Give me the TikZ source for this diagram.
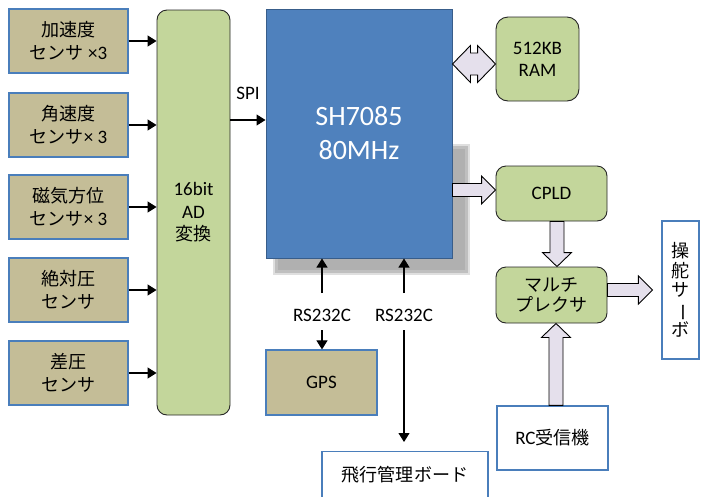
\documentclass[tikz,border=0pt]{standalone}
\usepackage{fontspec}
\setmainfont{Carlito}
\newfontfamily\jp{Noto Sans CJK JP}[Scale=0.95]
\usetikzlibrary{calc,arrows.meta}
\definecolor{tanfill}{HTML}{C4BD97}
\definecolor{bordblue}{HTML}{4A7EBB}
\definecolor{greenfill}{HTML}{C3D69B}
\definecolor{cpufill}{HTML}{4F81BD}
\definecolor{cpuborder}{HTML}{385D8A}
\definecolor{lavender}{HTML}{E5E0EC}
\begin{document}
\begin{tikzpicture}[x=1pt,y=-1pt,
  font=\fontsize{19}{23}\selectfont,
  sensor/.style={draw=bordblue, line width=1.2pt, fill=tanfill, minimum width=119pt, minimum height=64pt, align=center, inner sep=0pt},
  greenbox/.style={draw=black!85, line width=0.9pt, fill=greenfill, rounded corners=10pt, align=center, inner sep=0pt},
  whitebox/.style={draw=bordblue, line width=1.2pt, fill=white, align=center, inner sep=0pt},
  conn/.style={line width=1.1pt, -{Triangle[length=9pt,width=11pt]}},
  blockarrow/.style={draw=black, line width=0.9pt, fill=lavender, line join=miter},
  lbl/.style={inner sep=0pt}
]
\useasboundingbox (0,0) rectangle (707,496);

% shadow of CPU
\fill[gray!25] (273,144) rectangle (470,275);
\fill[gray!50] (275,146) rectangle (468,273);
\fill[gray!62] (278,149) rectangle (465,270);

% sensors
\node[sensor] (s1) at (68.5,41) {{\jp 加速度}\\{\jp センサ} ×3};
\node[sensor] (s2) at (68.5,125) {{\jp 角速度}\\{\jp センサ}× 3};
\node[sensor] (s3) at (68.5,207) {{\jp 磁気方位}\\{\jp センサ}× 3};
\node[sensor] (s4) at (68.5,290) {{\jp 絶対圧}\\{\jp センサ}};
\node[sensor] (s5) at (68.5,373) {{\jp 差圧}\\{\jp センサ}};

% ADC
\node[greenbox, minimum width=73pt, minimum height=405pt, font=\fontsize{19}{22.5}\selectfont] (adc) at (193.5,212.5) {16bit\\AD\\{\jp 変換}};

% CPU
\node[draw=cpuborder, line width=1pt, fill=cpufill, minimum width=186pt, minimum height=249pt, text=white, align=center, font=\fontsize{28}{34}\selectfont] (cpu) at (359,133.5) {SH7085\\80MHz};

% RAM, CPLD, MUX
\node[greenbox, minimum width=83pt, minimum height=84pt, rounded corners=12pt, font=\fontsize{19}{22}\selectfont] (ram) at (537.5,59) {512KB\\RAM};
\node[greenbox, minimum width=111pt, minimum height=55pt] (cpld) at (551.5,193.5) {CPLD};
\node[greenbox, minimum width=111pt, minimum height=56pt, font=\fontsize{19}{20.5}\selectfont] (mux) at (551.5,295) {{\jp マルチ}\\{\jp プレクサ}};

% servo
\node[whitebox, minimum width=37pt, minimum height=138pt, font=\jp\fontsize{19}{19.5}\selectfont] (servo) at (680.5,290) {操\\舵\\サ\\\rotatebox[origin=c]{-90}{ー}\\ボ};

% RC receiver
\node[whitebox, minimum width=111pt, minimum height=64pt] (rc) at (552.5,438) {RC{\jp 受信機}};

% GPS
\node[sensor, minimum width=111pt, minimum height=65pt] (gps) at (321.5,382.5) {GPS};

% flight board
\node[whitebox, minimum width=166pt, minimum height=50pt, anchor=north] (board) at (405,451) {};
\node[lbl] (boardtxt) at (405,475) {\jp 飛行管理ボード};

% sensor arrows
\foreach \s in {s1,s2,s3,s4,s5}
  \draw[conn] (\s.east) -- (\s.east -| adc.west);

% SPI
\coordinate (spiin) at ($(cpu.west)+(0,-13.5)$);
\draw[conn] (spiin -| adc.east) -- (spiin);
\node[lbl] (spi) at (248,93) {SPI};

% RS232C
\node[lbl] (rs1) at (322,315) {RS232C};
\node[lbl] (rs2) at (404,315) {RS232C};
\coordinate (r1top) at (322,293);
\coordinate (r1bot) at (322,330);
\coordinate (r2top) at (404,293);
\coordinate (r2bot) at (404,330);
\coordinate (r2end) at (404,442);
\draw[conn] (r1top) -- (r1top |- cpu.south);
\draw[conn] (r1bot) -- (r1bot |- gps.north);
\draw[conn] (r2top) -- (r2top |- cpu.south);
\draw[conn] (r2bot) -- (r2end);

% double arrow CPU <-> RAM
\coordinate (rr) at ($(ram.west)+(0,5)$);
\coordinate (rl) at (cpu.east |- rr);
\draw[blockarrow] (rl) -- ($(rl)+(18,-18.5)$) -- ($(rl)+(18,-11)$) -- ($(rr)+(-18,-11)$) -- ($(rr)+(-18,-18.5)$) -- (rr)
  -- ($(rr)+(-18,18.5)$) -- ($(rr)+(-18,11)$) -- ($(rl)+(18,11)$) -- ($(rl)+(18,18.5)$) -- cycle;

% CPU -> CPLD
\coordinate (ct) at ($(cpld.west)+(0,-3.5)$);
\coordinate (ca) at (cpu.east |- ct);
\draw[blockarrow] ($(ca)+(0,-6.5)$) -- ($(ct)+(-14,-6.5)$) -- ($(ct)+(-14,-14)$) -- (ct) -- ($(ct)+(-14,14)$) -- ($(ct)+(-14,6.5)$) -- ($(ca)+(0,6.5)$) -- cycle;

% CPLD -> MUX
\coordinate (da) at ($(cpld.south)+(5.5,0)$);
\coordinate (dt) at (da |- mux.north);
\draw[blockarrow] ($(da)+(-7,0)$) -- ($(dt)+(-7,-14)$) -- ($(dt)+(-14.5,-14)$) -- (dt) -- ($(dt)+(14.5,-14)$) -- ($(dt)+(7,-14)$) -- ($(da)+(7,0)$) -- cycle;

% RC -> MUX
\coordinate (ua) at ($(rc.north)+(3.5,0)$);
\coordinate (ut) at (ua |- mux.south);
\draw[blockarrow] ($(ua)+(-7,0)$) -- ($(ut)+(-7,14)$) -- ($(ut)+(-14.5,14)$) -- (ut) -- ($(ut)+(14.5,14)$) -- ($(ut)+(7,14)$) -- ($(ua)+(7,0)$) -- cycle;

% MUX -> servo
\coordinate (ma) at ($(mux.east)+(0,-5)$);
\coordinate (mt) at ($(servo.west |- ma)+(-9,0)$);
\draw[blockarrow] ($(ma)+(0,-6.5)$) -- ($(mt)+(-14,-6.5)$) -- ($(mt)+(-14,-14)$) -- (mt) -- ($(mt)+(-14,14)$) -- ($(mt)+(-14,6.5)$) -- ($(ma)+(0,6.5)$) -- cycle;

\end{tikzpicture}
\end{document}
